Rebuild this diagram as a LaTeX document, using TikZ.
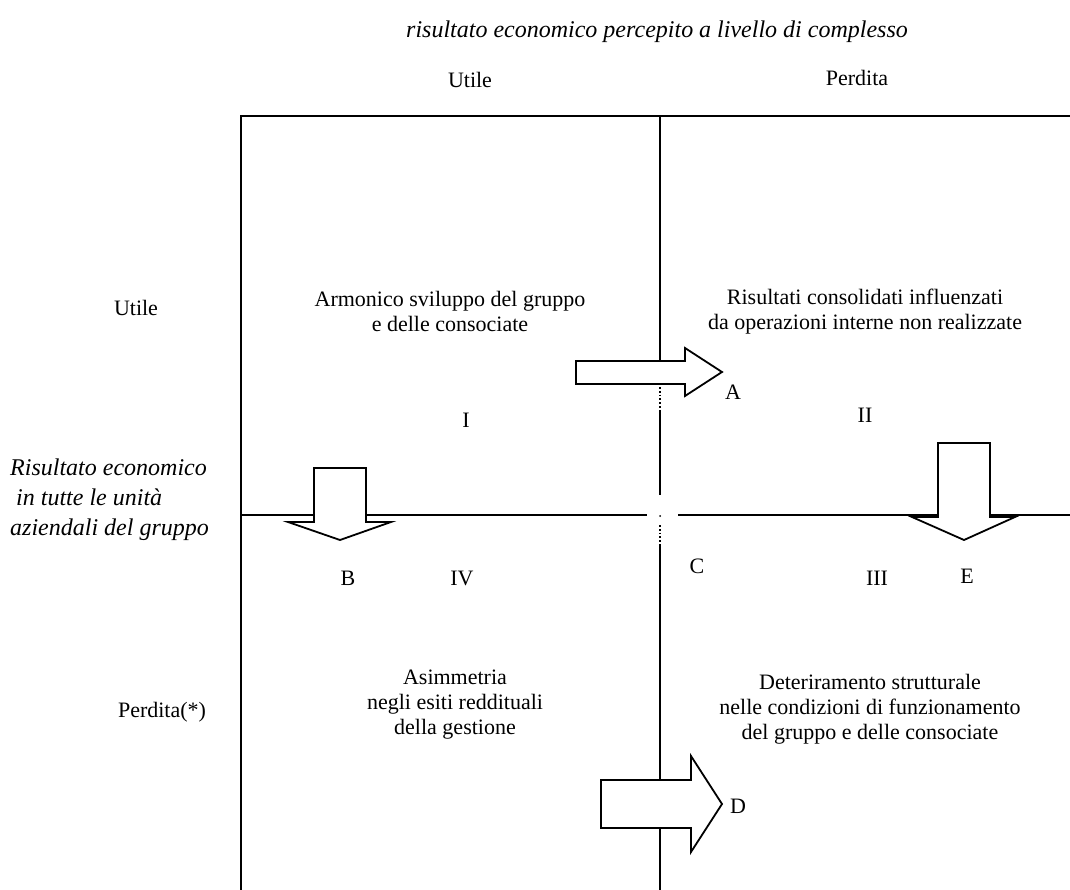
\documentclass[tikz,border=0pt]{standalone}
\usepackage{fontspec}
\setmainfont{Liberation Serif}
\usepackage{tikz}

\begin{document}
\begin{tikzpicture}[
  x=1pt, y=-1pt,
  font=\fontsize{22}{25}\selectfont,
  grid/.style={line width=1.8pt, black},
  gap/.style={line width=1.8pt, black, dotted},
  blockarr/.style={draw, line width=1.8pt, fill=white, line join=miter},
  lbl/.style={align=center, inner sep=0pt},
  ital/.style={lbl, font=\fontsize{24}{30}\selectfont\itshape},
]
\useasboundingbox (0,0) rectangle (1070,890);

% headers
\node[ital] (title) at (657,32) {risultato economico percepito a livello di complesso};
\node[lbl] (colU) at (470,80) {Utile};
\node[lbl] (colP) at (857,78) {Perdita};
\node[lbl] (rowU) at (136,308) {Utile};
\node[lbl] (rowP) at (162,712) {Perdita(*)};
\node[ital, align=left, anchor=west] (rowlbl) at (10,500)
   {Risultato economico\\\hspace{6pt}in tutte le unità\\aziendali del gruppo};

% grid
\draw[grid] (241,890) -- (241,116) -- (1070,116);
\draw[grid] (660,116) -- (660,361);
\draw[gap] (660,387) -- (660,410);
\draw[grid] (660,410) -- (660,495);
\draw[gap] (660,525) -- (660,545);
\draw[grid] (660,545) -- (660,890);
\fill (660,516) circle (1pt);
\draw[grid] (241,515) -- (647,515);
\draw[grid] (678,515) -- (1070,515);

% quadrant texts
\node[lbl] (q1) at (450,311) {Armonico sviluppo del gruppo\\e delle consociate};
\node[lbl] (q2) at (865,312) {Risultati consolidati influenzati\\da operazioni interne non realizzate};
\node[lbl] (q4) at (455,705) {Asimmetria\\negli esiti reddituali\\della gestione};
\node[lbl] (q3) at (870,709) {Deteriramento strutturale\\nelle condizioni di funzionamento\\del gruppo e delle consociate};

\node[lbl] (nI) at (466,420) {I};
\node[lbl] (nII) at (865,415) {II};
\node[lbl] (nIII) at (877,578) {III};
\node[lbl] (nIV) at (462,578) {IV};

% block arrows
\draw[blockarr] (576,361) -- (685,361) -- (685,348) -- (722,372) -- (685,396) -- (685,384) -- (576,384) -- cycle;
\draw[blockarr] (601,780) -- (691,780) -- (691,756) -- (722,804) -- (691,852) -- (691,828) -- (601,828) -- cycle;
\draw[blockarr] (314,468) -- (366,468) -- (366,522) -- (391,522) -- (340,540) -- (288,522) -- (314,522) -- cycle;
\draw[blockarr] (938,443) -- (990,443) -- (990,517) -- (1015,517) -- (964,540) -- (912,517) -- (938,517) -- cycle;

\node[lbl] (lA) at (733,392) {A};
\node[lbl] (lB) at (348,578) {B};
\node[lbl] (lC) at (697,566) {C};
\node[lbl] (lD) at (738,806) {D};
\node[lbl] (lE) at (967,576) {E};
\end{tikzpicture}
\end{document}
